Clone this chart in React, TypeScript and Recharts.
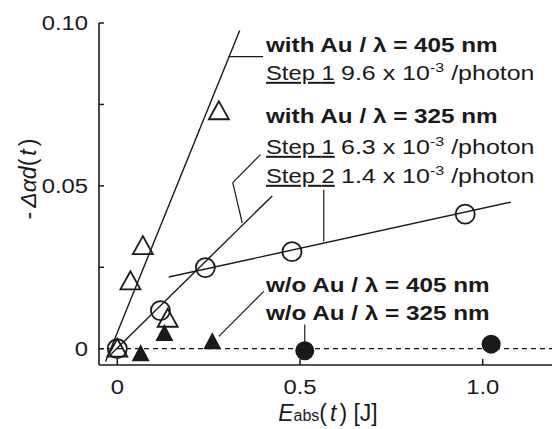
import React from "react";
import { ComposedChart, Scatter, XAxis, YAxis, ReferenceLine } from "recharts";

const FONT = "'Liberation Sans', Arial, Helvetica, sans-serif";
const INK = "#1a1a1a";
const SX = 1.19; // the original lettering is a bit wider than Arial

// with Au / 405 nm (open triangles)
const au405X = [0, 0.036, 0.07, 0.138, 0.278];
const au405Y = [0, 0.0207, 0.0315, 0.0092, 0.0729];
// with Au / 325 nm (open circles)
const au325X = [0, 0.118, 0.241, 0.478, 0.952];
const au325Y = [0, 0.0117, 0.0249, 0.0298, 0.0413];
// w/o Au / 405 nm (filled triangles)
const noAu405X = [0.064, 0.129, 0.26];
const noAu405Y = [-0.0014, 0.0048, 0.0023];
// w/o Au / 325 nm (filled circles)
const noAu325X = [0.513, 1.023];
const noAu325Y = [-0.0006, 0.0014];

// fitted lines
const fit405X = [-0.032, 0.335];
const fit405Y = [-0.0039, 0.0977];
const fitStep1X = [-0.018, 0.424];
const fitStep1Y = [-0.0018, 0.0469];
const fitStep2X = [0.141, 1.077];
const fitStep2Y = [0.022, 0.045];

// leader lines from the labels
const lead405X = [0.305, 0.399];
const lead405Y = [0.0897, 0.0897];
const lead325X = [0.392, 0.316, 0.342];
const lead325Y = [0.0596, 0.051, 0.0386];
const leadStep2X = [0.565, 0.565];
const leadStep2Y = [0.0488, 0.0329];
const leadNo405X = [0.401, 0.278];
const leadNo405Y = [0.0176, 0.0038];
const leadNo325X = [0.513, 0.513];
const leadNo325Y = [0.0074, 0.0012];

const xTicks = [0, 0.5, 1.0];
const xTickLabels = ["0", "0.5", "1.0"];
const yTicks = [0, 0.025, 0.05, 0.075, 0.1];
const yLabelled = [0, 0.05, 0.1];
const yTickLabels = ["0", "0.05", "0.10"];

const pts = (xs: number[], ys: number[]) => xs.map((x, i) => ({ x, y: ys[i] }));

const OpenTriangle = (p: any) => (
  <polygon
    points={`${p.cx},${p.cy - 10} ${p.cx - 10},${p.cy + 8} ${p.cx + 10},${p.cy + 8}`}
    fill="none"
    stroke={INK}
    strokeWidth={1.8}
  />
);
const FilledTriangle = (p: any) => (
  <polygon
    points={`${p.cx},${p.cy - 9} ${p.cx - 9},${p.cy + 8} ${p.cx + 9},${p.cy + 8}`}
    fill={INK}
  />
);
const OpenCircle = (p: any) => (
  <circle cx={p.cx} cy={p.cy} r={9.5} fill="none" stroke={INK} strokeWidth={1.8} />
);
const FilledCircle = (p: any) => <circle cx={p.cx} cy={p.cy} r={9.5} fill={INK} />;
const NoMark = () => <g />;

const BottomTick = (props: any) => {
  const { x, y, payload } = props;
  const i = xTicks.indexOf(payload.value);
  return (
    <g>
      <line x1={x} x2={x} y1={y} y2={y - 6} stroke={INK} strokeWidth={1.5} />
      <text
        transform={`translate(${x} ${y + 29}) scale(${SX} 1)`}
        textAnchor="middle"
        fontSize={20}
        fontFamily={FONT}
        fill={INK}
      >
        {xTickLabels[i]}
      </text>
    </g>
  );
};

const TopTick = (props: any) => (
  <line x1={props.x} x2={props.x} y1={props.y} y2={props.y + 6} stroke={INK} strokeWidth={1.5} />
);

const LeftTick = (props: any) => {
  const { x, y, payload } = props;
  const i = yLabelled.indexOf(payload.value);
  return (
    <g>
      <line x1={x} x2={x + 5} y1={y} y2={y} stroke={INK} strokeWidth={1.5} />
      {i >= 0 && (
        <text
          transform={`translate(${x - 11} ${y + 7}) scale(${SX} 1)`}
          textAnchor="end"
          fontSize={20}
          fontFamily={FONT}
          fill={INK}
        >
          {yTickLabels[i]}
        </text>
      )}
    </g>
  );
};

const RightTick = (props: any) => (
  <line x1={props.x} x2={props.x - 6} y1={props.y} y2={props.y} stroke={INK} strokeWidth={1.5} />
);

const T = ({ x, y, bold, size = 20.4, children }: any) => (
  <text
    transform={`translate(${x} ${y}) scale(${SX} 1)`}
    fontSize={size}
    fontWeight={bold ? 700 : 400}
    fontFamily={FONT}
    fill={INK}
  >
    {children}
  </text>
);

const Rate = ({ x, y, value }: any) => (
  <T x={x} y={y} size={21}>
    {value} x 10
    <tspan dy={-8} fontSize={13.5}>
      -3
    </tspan>
    <tspan dy={8}> /photon</tspan>
  </T>
);

const Step = ({ y, n }: any) => (
  <T x={266} y={y} size={20}>
    <tspan style={{ textDecoration: "underline" }}>Step {n}</tspan>
  </T>
);

export default function App() {
  const lineStyle = { stroke: INK, strokeWidth: 1.4 };
  const leadStyle = { stroke: INK, strokeWidth: 1.2 };

  return (
    <div
      style={{
        position: "fixed",
        left: 0,
        top: 0,
        width: 552,
        height: 429,
        overflow: "hidden",
        background: "#fff",
      }}
    >
      <ComposedChart width={600} height={429} margin={{ top: 23, right: 46, bottom: 0, left: 0 }}>
        <XAxis
          dataKey="x"
          type="number"
          domain={[-0.05, 1.195]}
          allowDataOverflow
          ticks={xTicks}
          height={64}
          tickSize={0}
          tickMargin={0}
          tickLine={false}
          axisLine={{ stroke: INK, strokeWidth: 1.6 }}
          tick={<BottomTick />}
        />
        <XAxis
          xAxisId="top"
          orientation="top"
          type="number"
          domain={[-0.05, 1.195]}
          allowDataOverflow
          ticks={xTicks}
          height={0}
          tickSize={0}
          tickMargin={0}
          tickLine={false}
          axisLine={{ stroke: INK, strokeWidth: 1.6 }}
          tick={<TopTick />}
        />
        <YAxis
          dataKey="y"
          type="number"
          domain={[-0.005, 0.1]}
          allowDataOverflow
          ticks={yTicks}
          width={99}
          tickSize={0}
          tickMargin={0}
          tickLine={false}
          axisLine={{ stroke: INK, strokeWidth: 1.6 }}
          tick={<LeftTick />}
        />
        <YAxis
          yAxisId="right"
          orientation="right"
          type="number"
          domain={[-0.005, 0.1]}
          allowDataOverflow
          ticks={yTicks}
          width={0}
          tickSize={0}
          tickMargin={0}
          tickLine={false}
          axisLine={{ stroke: INK, strokeWidth: 1.6 }}
          tick={<RightTick />}
        />
        <ReferenceLine y={0} stroke={INK} strokeWidth={1.2} strokeDasharray="5 4" />

        <Scatter data={pts(fit405X, fit405Y)} line={lineStyle} shape={NoMark} isAnimationActive={false} />
        <Scatter data={pts(fitStep1X, fitStep1Y)} line={lineStyle} shape={NoMark} isAnimationActive={false} />
        <Scatter data={pts(fitStep2X, fitStep2Y)} line={lineStyle} shape={NoMark} isAnimationActive={false} />
        <Scatter data={pts(lead405X, lead405Y)} line={leadStyle} shape={NoMark} isAnimationActive={false} />
        <Scatter data={pts(lead325X, lead325Y)} line={leadStyle} shape={NoMark} isAnimationActive={false} />
        <Scatter data={pts(leadStep2X, leadStep2Y)} line={leadStyle} shape={NoMark} isAnimationActive={false} />
        <Scatter data={pts(leadNo405X, leadNo405Y)} line={leadStyle} shape={NoMark} isAnimationActive={false} />
        <Scatter data={pts(leadNo325X, leadNo325Y)} line={leadStyle} shape={NoMark} isAnimationActive={false} />

        <Scatter data={pts(au405X, au405Y)} shape={OpenTriangle} isAnimationActive={false} />
        <Scatter data={pts(au325X, au325Y)} shape={OpenCircle} isAnimationActive={false} />
        <Scatter data={pts(noAu405X, noAu405Y)} shape={FilledTriangle} isAnimationActive={false} />
        <Scatter data={pts(noAu325X, noAu325Y)} shape={FilledCircle} isAnimationActive={false} />
      </ComposedChart>

      <svg
        width={552}
        height={429}
        style={{ position: "absolute", left: 0, top: 0, pointerEvents: "none" }}
      >
        <T x={266} y={52} bold>
          with Au / λ = 405 nm
        </T>
        <Step y={80} n={1} />
        <Rate x={341} y={80} value="9.6" />

        <T x={266} y={123} bold>
          with Au / λ = 325 nm
        </T>
        <Step y={154} n={1} />
        <Rate x={341} y={154} value="6.3" />
        <Step y={183} n={2} />
        <Rate x={341} y={183} value="1.4" />

        <T x={266} y={292} bold>
          w/o Au / λ = 405 nm
        </T>
        <T x={266} y={320} bold>
          w/o Au / λ = 325 nm
        </T>

        {/* y axis title */}
        <text
          transform="translate(36 179) rotate(-90)"
          textAnchor="middle"
          fontSize={23}
          fontFamily={FONT}
          fill={INK}
        >
          -
          <tspan dx={4} fontStyle="italic">Δαd</tspan>
          <tspan>(</tspan>
          <tspan dx={3} fontStyle="italic">t</tspan>
          <tspan dx={3}>)</tspan>
        </text>

        {/* x axis title */}
        <text x={328} y={421} textAnchor="middle" fontSize={23} fontFamily={FONT} fill={INK}>
          <tspan fontStyle="italic">E</tspan>
          <tspan fontSize={16}>abs</tspan>
          <tspan>(</tspan>
          <tspan dx={3} fontStyle="italic">t</tspan>
          <tspan dx={3}>) [J]</tspan>
        </text>
      </svg>
    </div>
  );
}
